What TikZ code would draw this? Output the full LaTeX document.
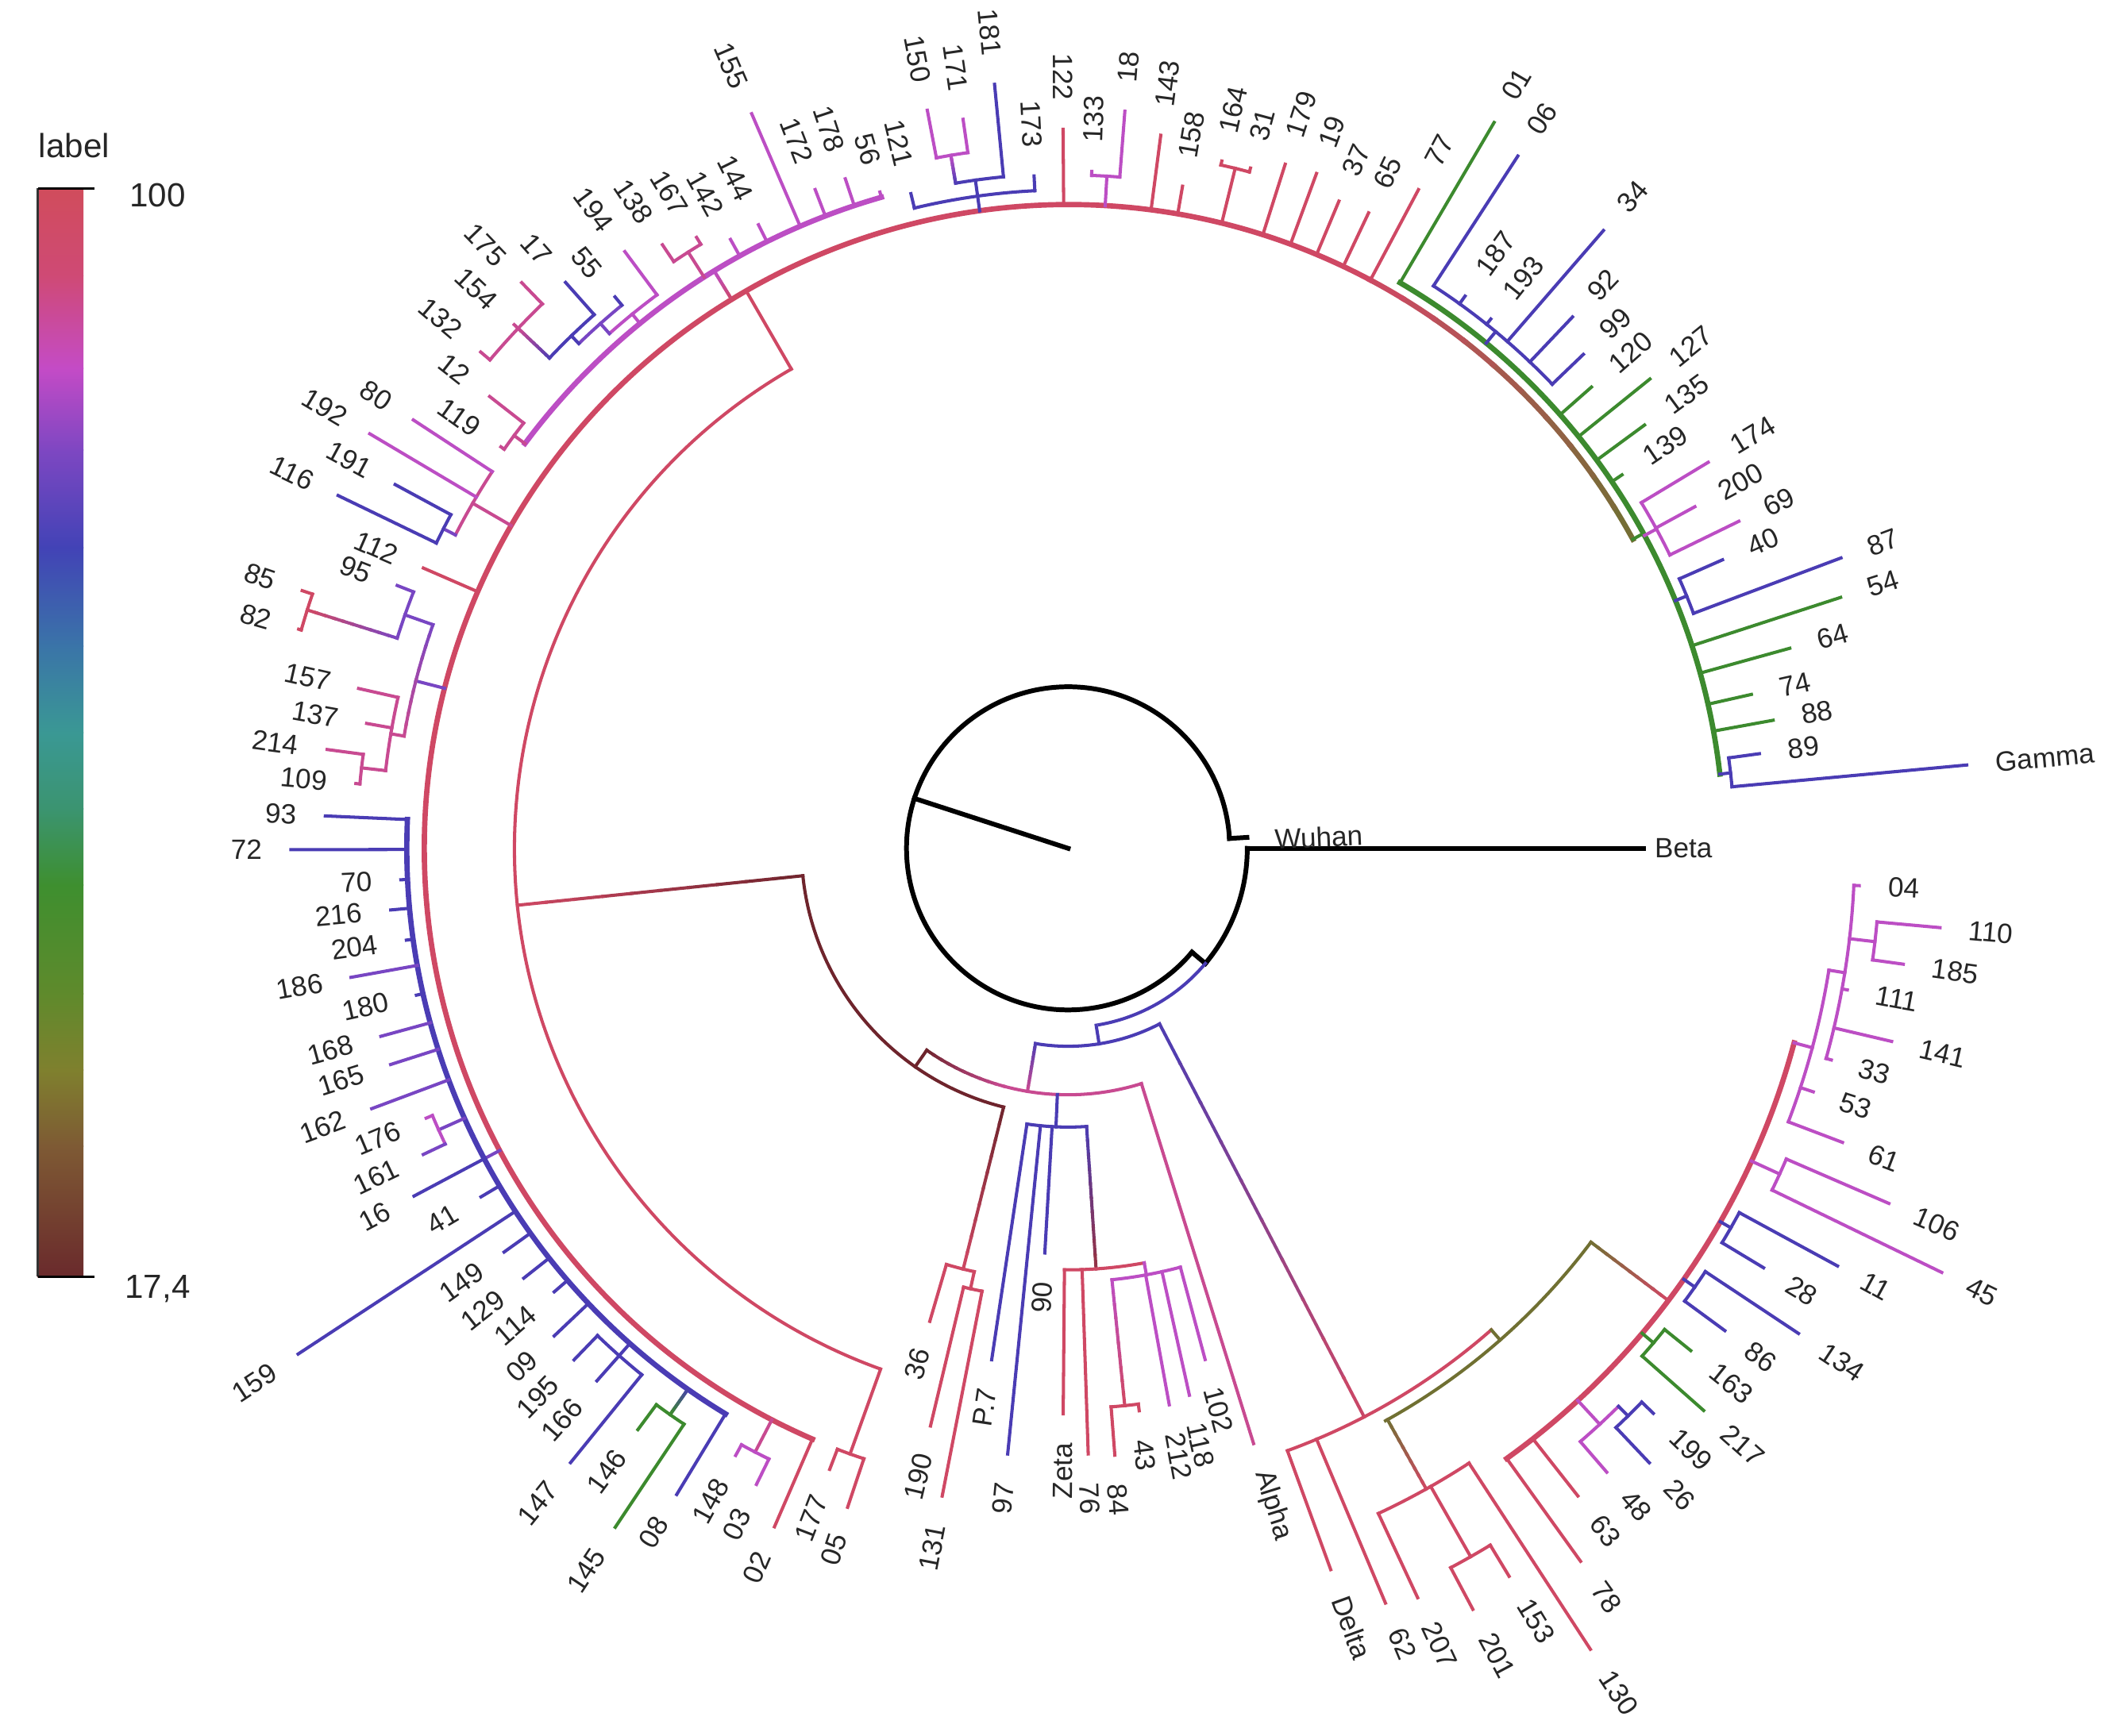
\documentclass[tikz,border=0pt]{standalone}
\usepackage{fontspec}
\setmainfont{Liberation Sans}

\definecolor{cRed}{RGB}{207,72,100}
\definecolor{cPink}{RGB}{200,74,145}
\definecolor{cMag}{RGB}{188,78,196}
\definecolor{cViol}{RGB}{120,70,195}
\definecolor{cBlue}{RGB}{74,60,180}
\definecolor{cGreen}{RGB}{60,138,46}
\definecolor{cOlive}{RGB}{112,112,50}
\definecolor{cBrown}{RGB}{110,36,44}
% legend stops
\definecolor{lg0}{RGB}{208,76,92}
\definecolor{lg1}{RGB}{207,74,117}
\definecolor{lg2}{RGB}{196,75,198}
\definecolor{lg3}{RGB}{126,71,194}
\definecolor{lg4}{RGB}{66,67,182}
\definecolor{lg5}{RGB}{58,116,168}
\definecolor{lg6}{RGB}{58,152,148}
\definecolor{lg7}{RGB}{59,148,112}
\definecolor{lg8}{RGB}{62,143,47}
\definecolor{lg9}{RGB}{95,138,44}
\definecolor{lg10}{RGB}{127,128,46}
\definecolor{lg11}{RGB}{126,90,52}
\definecolor{lg12}{RGB}{106,42,44}

\tikzset{
  branch/.style={line width=1.15pt, line cap=rect},
  spine/.style={line width=1.9pt, line cap=rect},
  rootline/.style={line width=1.7pt, black, line cap=rect},
  lbl/.style={font=\fontsize{10}{12}\selectfont, inner sep=1.5pt, text=black!85},
  legtext/.style={font=\fontsize{12}{14}\selectfont, text=black!85}
}
\newcounter{leafno}

\begin{document}
\begin{tikzpicture}[x=0.016964cm, y=0.016964cm]
\useasboundingbox (0,0) rectangle (1568,1289);

% Set the branch macros (angle : radius, radius in picture units)
\def\brline#1#2#3#4{\draw[branch,#1] (#2:#3) -- (#2:#4);}
\def\brarc#1#2#3#4{\draw[branch,#1] (#3:#2) arc[start angle=#3, end angle=#4, radius=#2];}
\def\leaf#1#2#3#4#5{%
  \draw[branch,#1] (#2:#3) -- (#2:#4);
  \stepcounter{leafno}%
  \pgfmathtruncatemacro\flip{and(#2>90,#2<270)}%
  \ifnum\flip=1
    \node[lbl, anchor=east, rotate=#2-180] (leaf\the\value{leafno}) at ({#2}:{#4+18}) {#5};
  \else
    \node[lbl, anchor=west, rotate=#2] (leaf\the\value{leafno}) at ({#2}:{#4+18}) {#5};
  \fi}
\def\gline#1#2#3#4#5{%
  \foreach \k in {0,...,9}{%
    \pgfmathtruncatemacro\pc{\k*10+5}%
    \draw[branch, color=#2!\pc!#1] ({#3}:{#4+(#5-#4)*\k/10}) -- ({#3}:{#4+(#5-#4)*(\k+1)/10});
  }}
\def\garc#1#2#3#4#5#6{%
  \foreach \k in {0,...,9}{%
    \pgfmathtruncatemacro\pc{\k*10+5}%
    \pgfmathsetmacro\angA{#5+(#6-#5)*\k/10}%
    \pgfmathsetmacro\angB{#5+(#6-#5)*(\k+1)/10}%
    \draw[#1, color=#3!\pc!#2] (\angA:#4) arc[start angle=\angA, end angle=\angB, radius=#4];
  }}

\begin{scope}[shift={(793,659)}]
% root and outgroup
\draw[rootline] (0,0) -- (162:120);
\draw[rootline] (3.5:120) arc[start angle=3.5, end angle=320, radius=120];
\draw[rootline] (3.5:120) -- (3.5:133);
\draw[rootline] (320:120) -- (320:133);
\draw[rootline] (320:133) arc[start angle=320, end angle=360, radius=133];
\draw[rootline] (0:133) -- (0:427);
\node[lbl, anchor=west] (beta) at (0:432) {Beta};
\node[lbl, anchor=west, rotate=2.5] (wuhan) at (2.5:150) {Wuhan};
\brarc{cBlue}{133}{280}{320}
\brline{cBlue}{279}{133}{147}
\brarc{cBlue}{147}{260.5}{297.5}

% inner clades
\gline{cBlue}{cPink}{260.5}{147}{183}
\garc{branch}{cBrown}{cPink}{183}{235}{255}
\brarc{cPink}{183}{255}{287.3}
\brline{cBrown}{235}{183}{198}
\brarc{cBrown}{198}{185.9}{256}
\gline{cBrown}{cRed}{185.9}{198}{411}
\brarc{cRed}{411}{120}{250.1}
\gline{cBrown}{cRed}{256}{198}{322}
\brarc{cRed}{322}{253.7}{257.5}
\leaf{cRed}{253.7}{322}{366}{36}
\brline{cRed}{257.5}{322}{335}
\brarc{cRed}{335}{256.6}{259}
\leaf{cRed}{256.6}{335}{441}{190}
\leaf{cRed}{259}{335}{490}{131}
\brline{cBlue}{267.5}{183}{207}
\brarc{cBlue}{207}{261.5}{273.8}
\leaf{cBlue}{261.5}{207}{384}{P.7}
\leaf{cBlue}{264.3}{207}{452}{97}
\leaf{cBlue}{266.7}{207}{301}{90}
\gline{cBlue}{cBrown!60!cRed}{273.8}{207}{313}
\brarc{cRed}{313}{269.5}{280.4}
\leaf{cRed}{269.5}{313}{420}{Zeta}
\leaf{cRed}{271.9}{313}{450}{76}
\brline{cMag}{280.4}{313}{322}
\brarc{cMag}{322}{275.8}{285}
\gline{cMag}{cRed}{275.8}{322}{416}
\brarc{cRed}{416}{274.4}{277.2}
\leaf{cRed}{274.4}{416}{452}{84}
\leaf{cRed}{277.2}{416}{421}{43}
\leaf{cMag}{280.3}{322}{420}{212}
\leaf{cMag}{282.5}{322}{416}{118}
\leaf{cMag}{285}{322}{393}{102}
\leaf{cPink}{287.3}{183}{463}{Alpha}

% Delta side
\gline{cBlue}{cRed}{297.5}{147}{476}
\brarc{cRed}{476}{290}{311.3}
\leaf{cRed}{290}{476}{570}{Delta}
\leaf{cRed}{292.8}{476}{608}{62}
\brline{cOlive}{311.3}{476}{486}
\brarc{cOlive}{486}{299}{323}
\gline{cOlive}{cRed}{299.2}{486}{545}
\brarc{cRed}{545}{295}{303.1}
\leaf{cRed}{295}{545}{614}{207}
\brline{cRed}{299.6}{545}{605}
\brarc{cRed}{605}{298}{301.2}
\leaf{cRed}{298}{605}{640}{201}
\leaf{cRed}{301.2}{605}{632}{153}
\leaf{cRed}{303.1}{545}{710}{130}
\gline{cOlive}{cRed}{323}{486}{558}
\brarc{spine,cRed}{558}{305.7}{345}
\leaf{cRed}{305.7}{558}{652}{78}
\leaf{cRed}{308.2}{558}{612}{63}
\brline{cMag}{312.7}{558}{582}
\brarc{cMag}{582}{310.8}{314.6}
\leaf{cMag}{310.8}{582}{612}{48}
\brline{cBlue}{314.6}{582}{592}
\brarc{cBlue}{592}{313.4}{316}
\leaf{cBlue}{313.4}{592}{628}{26}
\leaf{cBlue}{316}{592}{604}{199}
\brline{cGreen}{319.8}{558}{569}
\brarc{cGreen}{569}{318.5}{321.1}
\leaf{cGreen}{318.5}{569}{630}{217}
\leaf{cGreen}{321.1}{569}{594}{163}
\brline{cBlue}{325}{558}{568}
\brarc{cBlue}{568}{323.7}{326.4}
\leaf{cBlue}{323.7}{568}{605}{86}
\leaf{cBlue}{326.4}{568}{651}{134}
\brline{cBlue}{330.2}{558}{567}
\brarc{cBlue}{567}{328.9}{331.5}
\leaf{cBlue}{328.9}{567}{603}{28}
\leaf{cBlue}{331.5}{567}{650}{11}
\brline{cMag}{335.4}{558}{581}
\brarc{cMag}{581}{334.1}{336.6}
\leaf{cMag}{334.1}{581}{721}{45}
\leaf{cMag}{336.6}{581}{664}{106}
\brline{cMag}{345}{558}{572}
\brarc{cMag}{572}{339.2}{350.9}
\leaf{cMag}{339.2}{572}{615}{61}
\leaf{cMag}{341.9}{572}{582}{53}
\brline{cMag}{350.9}{572}{584}
\brarc{cMag}{584}{344.5}{357.3}
\leaf{cMag}{344.5}{584}{588}{33}
\leaf{cMag}{346.8}{584}{628}{141}
\leaf{cMag}{349.7}{584}{588}{111}
\brline{cMag}{353.4}{584}{603}
\brarc{cMag}{603}{352.1}{354.8}
\leaf{cMag}{352.1}{603}{626}{185}
\leaf{cMag}{354.8}{603}{650}{110}
\leaf{cMag}{357.3}{584}{588}{04}

% big outer clade
\brline{cRed}{120}{411}{478}
\garc{spine}{cOlive}{cRed}{478}{28.7}{62}
\brarc{spine,cRed}{478}{62}{246.6}
% green group
\brline{cGreen}{28.7}{478}{487}
\brarc{spine,cGreen}{487}{6.5}{59.6}
\brline{cBlue}{6.5}{487}{495}
\brarc{cBlue}{495}{5.3}{7.8}
\leaf{cBlue}{5.3}{495}{670}{Gamma}
\leaf{cBlue}{7.8}{495}{518}{89}
\leaf{cGreen}{10.3}{487}{532}{88}
\leaf{cGreen}{12.7}{487}{520}{74}
\leaf{cGreen}{15.5}{487}{556}{64}
\leaf{cGreen}{18}{487}{603}{54}
\brline{cBlue}{22.2}{487}{496}
\brarc{cBlue}{496}{20.6}{23.8}
\leaf{cBlue}{20.6}{496}{613}{87}
\leaf{cBlue}{23.8}{496}{531}{40}
\brline{cMag}{28.5}{487}{497}
\brarc{cMag}{497}{26}{31.1}
\leaf{cMag}{26}{497}{554}{69}
\leaf{cMag}{28.6}{497}{530}{200}
\leaf{cMag}{31.1}{497}{555}{174}
\leaf{cGreen}{34}{487}{496}{139}
\leaf{cGreen}{36.3}{487}{531}{135}
\leaf{cGreen}{38.9}{487}{555}{127}
\leaf{cGreen}{41.4}{487}{518}{120}
\brline{cBlue}{50.4}{487}{498}
\brarc{cBlue}{498}{43.8}{57}
\leaf{cBlue}{43.8}{498}{530}{99}
\leaf{cBlue}{46.5}{498}{544}{92}
\leaf{cBlue}{49.1}{498}{607}{34}
\leaf{cBlue}{51.4}{498}{503}{193}
\leaf{cBlue}{54.3}{498}{505}{187}
\leaf{cBlue}{57}{498}{613}{06}
\leaf{cGreen}{59.6}{487}{625}{01}
% top red group
\leaf{cRed}{62}{478}{554}{77}
\leaf{cRed}{64.7}{478}{522}{65}
\leaf{cRed}{67.3}{478}{521}{37}
\leaf{cRed}{69.8}{478}{534}{19}
\leaf{cRed}{72.4}{478}{533}{179}
\brline{cRed}{76.2}{478}{520}
\brarc{cRed}{520}{75}{77.4}
\leaf{cRed}{75}{520}{523}{31}
\leaf{cRed}{77.4}{520}{523}{164}
\leaf{cRed}{80.2}{478}{499}{158}
\leaf{cRed}{82.6}{478}{534}{143}
\brline{cMag}{86.7}{478}{500}
\brarc{cMag}{500}{85.6}{88}
\leaf{cMag}{85.6}{500}{549}{18}
\leaf{cMag}{88}{500}{503}{133}
\leaf{cRed}{90.4}{478}{534}{122}
\brline{cBlue}{97.9}{478}{501}
\brarc{cBlue}{489}{92.9}{103.5}
\leaf{cBlue}{92.9}{489}{500}{173}
\leaf{cBlue}{103.5}{489}{500}{121}
\brarc{cBlue}{501}{95.5}{99.6}
\leaf{cBlue}{95.5}{501}{570}{181}
\gline{cBlue}{cMag}{99.6}{501}{522}
\brarc{cMag}{522}{98.2}{100.8}
\leaf{cMag}{98.2}{522}{547}{171}
\leaf{cMag}{100.8}{522}{558}{150}
% magenta group
\gline{cRed}{cMag}{121.5}{478}{503}
\brarc{spine,cMag}{503}{106}{143.3}
\leaf{cMag}{106}{503}{507}{56}
\leaf{cMag}{108.4}{503}{524}{178}
\leaf{cMag}{111}{503}{524}{172}
\leaf{cMag}{113.3}{503}{594}{155}
\leaf{cMag}{116.4}{503}{517}{144}
\leaf{cMag}{119}{503}{517}{142}
\brline{cPink}{122.5}{503}{525}
\brarc{cPink}{525}{121.3}{123.9}
\leaf{cPink}{121.3}{525}{531}{167}
\leaf{cPink}{123.9}{525}{540}{138}
\brline{cMag}{129.2}{503}{512}
\brarc{cMag}{512}{126.6}{131.7}
\leaf{cMag}{126.6}{512}{552}{194}
\brline{cViol}{131.7}{512}{522}
\brarc{cViol}{522}{129.4}{134.1}
\leaf{cBlue}{129.4}{522}{530}{55}
\brline{cBlue}{134.1}{522}{530}
\brarc{cBlue}{530}{131.6}{136.6}
\leaf{cBlue}{131.6}{530}{562}{17}
\gline{cBlue}{cPink}{136.6}{530}{562}
\brarc{cPink}{562}{134}{139.8}
\leaf{cPink}{134}{562}{584}{175}
\leaf{cPink}{136.6}{562}{566}{154}
\leaf{cPink}{139.8}{562}{571}{132}
\brline{cPink}{143.3}{503}{513}
\brarc{cPink}{513}{142}{144.7}
\leaf{cPink}{142}{513}{545}{12}
\leaf{cPink}{144.7}{513}{516}{119}
% left upper groups
\brline{cPink}{149.9}{478}{511}
\brarc{cPink}{511}{146.8}{152.9}
\leaf{cMag}{146.8}{511}{581}{80}
\leaf{cMag}{149.3}{511}{603}{192}
\brline{cViol}{152.9}{511}{521}
\brarc{cBlue}{521}{151.6}{154.2}
\leaf{cBlue}{151.6}{521}{568}{191}
\leaf{cBlue}{154.2}{521}{602}{116}
\leaf{cRed}{156.5}{478}{522}{112}
\brline{cViol}{165.6}{478}{500}
\garc{branch}{cViol}{cPink}{500}{160.6}{170.4}
\brline{cViol}{160.6}{500}{522}
\brarc{cViol}{522}{158.6}{162.6}
\leaf{cViol}{158.6}{522}{535}{95}
\gline{cViol}{cRed}{162.6}{522}{592}
\brarc{cRed}{592}{161.4}{164.1}
\leaf{cRed}{161.4}{592}{600}{85}
\leaf{cRed}{164.1}{592}{594}{82}
\brline{cPink}{170.4}{500}{510}
\brarc{cPink}{510}{167.3}{173.5}
\leaf{cPink}{167.3}{510}{540}{157}
\leaf{cPink}{169.9}{510}{529}{137}
\brline{cPink}{173.5}{510}{528}
\brarc{cPink}{528}{172.4}{174.8}
\leaf{cPink}{172.4}{528}{555}{214}
\leaf{cPink}{174.8}{528}{531}{109}
% blue group
\brline{cViol}{208}{478}{491}
\brarc{spine,cBlue}{491}{177.5}{238.8}
\leaf{cBlue}{177.5}{491}{552}{93}
\leaf{cBlue}{180.1}{491}{577}{72}
\leaf{cBlue}{182.7}{491}{496}{70}
\leaf{cBlue}{185.2}{491}{505}{216}
\leaf{cBlue}{187.9}{491}{496}{204}
\leaf{cViol}{190.2}{491}{541}{186}
\leaf{cBlue}{192.7}{491}{496}{180}
\leaf{cViol}{195.3}{491}{529}{168}
\leaf{cViol}{197.7}{491}{528}{165}
\leaf{cViol}{200.5}{491}{552}{162}
\brline{cViol}{204.1}{491}{512}
\brarc{cMag}{512}{202.8}{205.4}
\leaf{cMag}{202.8}{512}{517}{176}
\leaf{cViol}{205.4}{512}{530}{161}
\leaf{cBlue}{208}{491}{550}{16}
\leaf{cBlue}{210.7}{491}{507}{41}
\leaf{cBlue}{213.3}{491}{684}{159}
\leaf{cBlue}{215.6}{491}{515}{149}
\leaf{cBlue}{218.3}{491}{515}{129}
\leaf{cBlue}{220.8}{491}{504}{114}
\leaf{cBlue}{223.5}{491}{526}{09}
\brline{cBlue}{228.5}{491}{503}
\brarc{cBlue}{503}{226}{231}
\leaf{cBlue}{226}{503}{528}{195}
\leaf{cBlue}{228.5}{503}{528}{166}
\leaf{cBlue}{231}{503}{587}{147}
\gline{cBlue}{cGreen}{234.9}{491}{514}
\brarc{cGreen}{514}{233.5}{236.3}
\leaf{cGreen}{233.5}{514}{537}{146}
\leaf{cGreen}{236.3}{514}{606}{145}
\leaf{cBlue}{238.8}{491}{561}{08}
% bottom left
\brline{cPink}{242.6}{478}{505}
\brarc{cMag}{505}{241.3}{243.9}
\leaf{cMag}{241.3}{505}{514}{148}
\leaf{cMag}{243.9}{505}{526}{03}
\leaf{cRed}{246.6}{478}{549}{02}
\brline{cRed}{250.2}{411}{478}
\brarc{cRed}{478}{249}{251.5}
\leaf{cRed}{249}{478}{494}{177}
\leaf{cRed}{251.5}{478}{516}{05}
\end{scope}

% legend
\node[legtext] (legtitle) at (55,1181) {label};
\foreach \ya/\yb/\ca/\cb in {1149/1084.4/lg0/lg1, 1084.4/1015.7/lg1/lg2, 1015.7/955.1/lg2/lg3, 955.1/882.4/lg3/lg4, 882.4/809.6/lg4/lg5, 809.6/745/lg5/lg6, 745/688.4/lg6/lg7, 688.4/631.9/lg7/lg8, 631.9/551.1/lg8/lg9, 551.1/494.5/lg9/lg10, 494.5/438/lg10/lg11, 438/341/lg11/lg12}
  \shade[top color=\ca, bottom color=\cb] (28,\yb-0.5) rectangle (62,\ya);
\draw[black!80, line width=0.8pt] (28,341) -- (28,1149);
\draw[black, line width=0.8pt] (28,1149) -- (70,1149);
\draw[black, line width=0.8pt] (28,341) -- (70,341);
\node[legtext] (legtop) at (117,1144) {100};
\node[legtext] (legbot) at (117,332) {17,4};
\end{tikzpicture}
\end{document}
